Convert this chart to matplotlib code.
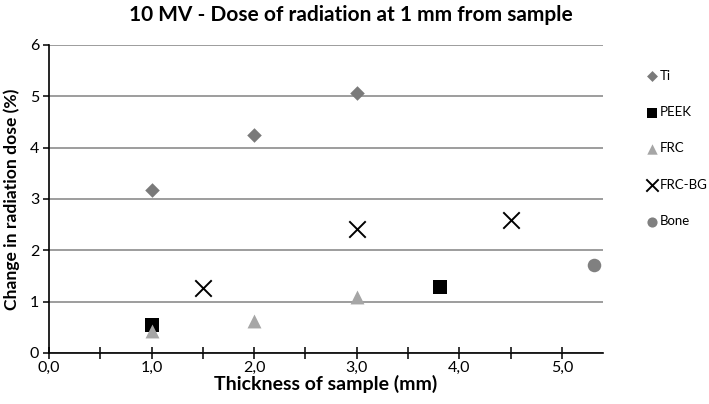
import matplotlib
matplotlib.use("Agg")
import matplotlib.pyplot as plt
from matplotlib.ticker import FixedLocator, FuncFormatter

plt.rcParams['font.family'] = ['Lato', 'DejaVu Sans']

ti_x = [1.0, 2.0, 3.0]
ti_y = [3.17, 4.24, 5.07]
peek_x = [1.0, 3.81]
peek_y = [0.55, 1.28]
frc_x = [1.0, 2.0, 3.0]
frc_y = [0.42, 0.63, 1.10]
frcbg_x = [1.5, 3.0, 4.5]
frcbg_y = [1.27, 2.42, 2.60]
bone_x = [5.31]
bone_y = [1.71]

fig = plt.figure(figsize=(7.09, 4.04), dpi=100)
ax = fig.add_axes([49/709, 1-353/404, (603-49)/709, (353-45)/404])

ax.scatter(ti_x, ti_y, marker='D', s=55, color='#7a7a7a', label='Ti', zorder=3, linewidths=0)
ax.scatter(peek_x, peek_y, marker='s', s=90, color='#000000', label='PEEK', zorder=3, linewidths=0)
ax.scatter(frc_x, frc_y, marker='^', s=100, color='#a6a6a6', label='FRC', zorder=3, linewidths=0)
ax.scatter(frcbg_x, frcbg_y, marker='x', s=140, color='#000000', label='FRC-BG', zorder=3, linewidths=1.4)
ax.scatter(bone_x, bone_y, marker='o', s=95, color='#808080', label='Bone', zorder=3, linewidths=0)

ax.set_xlim(0, 5.4)
ax.set_ylim(0, 6)
ax.xaxis.set_major_locator(FixedLocator([0, 1, 2, 3, 4, 5]))
ax.xaxis.set_minor_locator(FixedLocator([0.5, 1.5, 2.5, 3.5, 4.5]))
ax.xaxis.set_major_formatter(FuncFormatter(lambda v, p: f"{v:.1f}".replace('.', ',')))
ax.set_yticks(range(0, 7))
ax.yaxis.grid(True, color='#8c8c8c', linewidth=1.2)
ax.set_axisbelow(True)
for s in ['top', 'right']:
    ax.spines[s].set_visible(False)
for s in ['left', 'bottom']:
    ax.spines[s].set_color('black')
    ax.spines[s].set_linewidth(1.2)
ax.tick_params(axis='x', which='both', direction='inout', length=8, width=1.1, labelsize=11.5, pad=2, colors='black')
ax.tick_params(axis='y', direction='out', length=4, width=1.1, labelsize=11.5, pad=3)

ax.set_xlabel('Thickness of sample (mm)', fontsize=14, fontweight='bold', labelpad=0)
ax.set_ylabel('Change in radiation dose (%)', fontsize=12.6, fontweight='bold', labelpad=7)
fig.text(351/709, 1-15/404, '10 MV - Dose of radiation at 1 mm from sample', ha='center', va='center',
         fontsize=15, fontweight='bold')

leg = fig.legend(loc='upper left', bbox_to_anchor=(637/709, 1-63/404), frameon=False, fontsize=9.5,
                 handletextpad=0.0, labelspacing=1.85, markerscale=0.75, borderpad=0, handlelength=1.2)

fig.savefig('out.png', dpi=100)
